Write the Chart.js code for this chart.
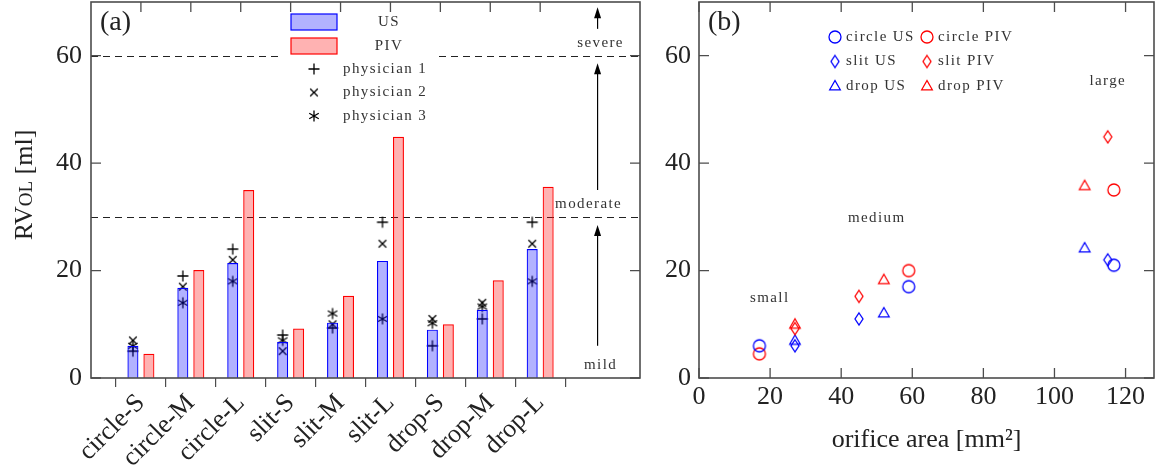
<!DOCTYPE html>
<html>
<head>
<meta charset="utf-8">
<script src="https://cdn.jsdelivr.net/npm/chart.js@4/dist/chart.umd.min.js"></script>
<style>
  html, body { margin: 0; padding: 0; background: #fff; }
  #wrap { position: relative; width: 1163px; height: 470px; }
  #left { position: absolute; left: 0; top: 0; }
  #right { position: absolute; left: 660px; top: 0; }
</style>
</head>
<body>
<div id="wrap">
  <canvas id="left" width="660" height="470"></canvas>
  <canvas id="right" width="503" height="470"></canvas>
</div>
<script>
// panel (a): volumes per orifice
const categories = ['circle-S', 'circle-M', 'circle-L', 'slit-S', 'slit-M', 'slit-L', 'drop-S', 'drop-M', 'drop-L'];
const usVolume = [6.0, 16.8, 21.4, 6.7, 10.3, 21.8, 9.0, 12.7, 24.0];
const pivVolume = [4.5, 20.1, 35.0, 9.2, 15.3, 44.9, 10.0, 18.2, 35.6];
const physician1 = [5.0, 19.0, 24.0, 8.0, 9.3, 29.0, 6.0, 11.0, 29.0];
const physician2 = [7.0, 17.0, 22.0, 5.0, 10.0, 25.0, 11.0, 14.0, 25.0];
const physician3 = [6.0, 14.0, 18.0, 7.0, 12.0, 11.0, 10.2, 13.3, 18.0];
const gradeLimits = [30, 60];
const yTicks = [0, 20, 40, 60];

// panel (b): volume against orifice area
const circleArea = [17, 59, 116.7];
const slitArea = [27, 45, 115];
const dropArea = [27, 52, 108.5];
const circleUS = [6.0, 17.0, 21.0];
const circlePIV = [4.5, 20.0, 35.0];
const slitUS = [6.0, 11.0, 22.0];
const slitPIV = [9.2, 15.2, 44.9];
const dropUS = [7.0, 12.1, 24.2];
const dropPIV = [10.0, 18.3, 35.8];
const areaTicks = [0, 20, 40, 60, 80, 100, 120];

const SERIF = '"Liberation Serif", "DejaVu Serif", serif';
const INK = '#222';
const FRAME = '#4d4d4d';
const BLUE = '#0000ff';
const RED = '#ff0000';
const BLUE_FILL = 'rgba(0, 0, 255, 0.3)';
const RED_FILL = 'rgba(255, 0, 0, 0.3)';
const BIG = { family: SERIF, size: 26 };

Chart.defaults.font.family = SERIF;
Chart.defaults.color = INK;

const markerCanvas = (kind, color) => {
  const c = document.createElement('canvas');
  c.width = 18;
  c.height = 18;
  const g = c.getContext('2d');
  g.strokeStyle = color;
  g.lineWidth = 1.3;
  g.translate(9, 9);
  g.beginPath();
  if (kind === 'circle') {
    g.arc(0, 0, 6, 0, Math.PI * 2);
  } else if (kind === 'diamond') {
    g.moveTo(0, -6); g.lineTo(4, 0); g.lineTo(0, 6); g.lineTo(-4, 0); g.closePath();
  } else if (kind === 'triangle') {
    g.moveTo(0, -5.5); g.lineTo(5.3, 3.8); g.lineTo(-5.3, 3.8); g.closePath();
  } else if (kind === 'plus') {
    g.moveTo(-5.5, 0); g.lineTo(5.5, 0); g.moveTo(0, -5.5); g.lineTo(0, 5.5);
  } else if (kind === 'cross') {
    g.moveTo(-3.8, -3.8); g.lineTo(3.8, 3.8); g.moveTo(3.8, -3.8); g.lineTo(-3.8, 3.8);
  } else if (kind === 'asterisk') {
    for (let k = 0; k < 3; k++) {
      const a = Math.PI / 2 + k * Math.PI / 3;
      g.moveTo(-5.5 * Math.cos(a), -5.5 * Math.sin(a));
      g.lineTo(5.5 * Math.cos(a), 5.5 * Math.sin(a));
    }
  }
  g.stroke();
  return c;
};

const marks = {
  plus: markerCanvas('plus', '#000'),
  cross: markerCanvas('cross', '#000'),
  asterisk: markerCanvas('asterisk', '#000'),
  circleUS: markerCanvas('circle', BLUE),
  circlePIV: markerCanvas('circle', RED),
  slitUS: markerCanvas('diamond', BLUE),
  slitPIV: markerCanvas('diamond', RED),
  dropUS: markerCanvas('triangle', BLUE),
  dropPIV: markerCanvas('triangle', RED),
};

const smallText = (ctx, text, x, y, align) => {
  ctx.font = '15px ' + SERIF;
  ctx.letterSpacing = '1.4px';
  ctx.fillStyle = '#333';
  ctx.textAlign = align || 'center';
  ctx.textBaseline = 'middle';
  ctx.fillText(text, x, y);
  ctx.letterSpacing = '0px';
};

const drawArrow = (ctx, x, yFrom, yTo) => {
  ctx.strokeStyle = '#000';
  ctx.fillStyle = '#000';
  ctx.lineWidth = 1.2;
  ctx.beginPath();
  ctx.moveTo(x, yFrom);
  ctx.lineTo(x, yTo + 8);
  ctx.stroke();
  ctx.beginPath();
  ctx.moveTo(x, yTo);
  ctx.lineTo(x - 3.5, yTo + 11);
  ctx.lineTo(x + 3.5, yTo + 11);
  ctx.closePath();
  ctx.fill();
};

// no label overhang padding: the plot box is set by afterFit
const noPad = (s) => {
  s.paddingTop = 0;
  s.paddingBottom = 0;
  s.paddingLeft = 0;
  s.paddingRight = 0;
};

// box round the plot with inward ticks
const framePlugin = {
  id: 'frame',
  afterDraw(chart, args, opts) {
    const { ctx, chartArea: a } = chart;
    const x = chart.scales.x;
    const y = chart.scales.y;
    const len = 10;

    ctx.save();
    ctx.strokeStyle = FRAME;
    ctx.lineWidth = 1.3;
    ctx.beginPath();
    y.ticks.forEach((t) => {
      const p = y.getPixelForValue(t.value);
      ctx.moveTo(a.left, p); ctx.lineTo(a.left + len, p);
      ctx.moveTo(a.right, p); ctx.lineTo(a.right - len, p);
    });
    x.ticks.forEach((t) => {
      const p = x.getPixelForValue(t.value);
      ctx.moveTo(p, a.top); ctx.lineTo(p, a.top + len);
      if (opts.bottomInward) {
        ctx.moveTo(p, a.bottom); ctx.lineTo(p, a.bottom - len);
      }
    });
    ctx.stroke();
    ctx.lineWidth = 1.6;
    ctx.strokeRect(a.left, a.top, a.right - a.left, a.bottom - a.top);

    ctx.font = '28px ' + SERIF;
    ctx.fillStyle = INK;
    ctx.textAlign = 'left';
    ctx.textBaseline = 'middle';
    ctx.fillText(opts.tag, a.left + 9, a.top + 21);
    ctx.restore();
  },
};

// severity limits, arrows and the legend of panel (a)
const severityPlugin = {
  id: 'severity',
  beforeDatasetsDraw(chart) {
    const { ctx, chartArea: a } = chart;
    const y = chart.scales.y;
    ctx.save();
    ctx.strokeStyle = '#222';
    ctx.lineWidth = 1.2;
    ctx.setLineDash([7, 5]);
    gradeLimits.forEach((v) => {
      const p = Math.round(y.getPixelForValue(v)) + 0.5;
      ctx.beginPath();
      ctx.moveTo(a.left, p);
      ctx.lineTo(a.right, p);
      ctx.stroke();
    });
    ctx.restore();
  },
  afterDatasetsDraw(chart) {
    const { ctx, chartArea: a } = chart;
    const x = chart.scales.x;
    const y = chart.scales.y;
    const ax = x.getPixelForValue(10.15);
    ctx.save();
    drawArrow(ctx, ax, y.getPixelForValue(6), y.getPixelForValue(28.5));
    drawArrow(ctx, ax, y.getPixelForValue(35), y.getPixelForValue(58.6));
    drawArrow(ctx, ax, y.getPixelForValue(65), y.getPixelForValue(69));
    smallText(ctx, 'mild', ax + 3, y.getPixelForValue(2.4));
    smallText(ctx, 'moderate', ax - 9, y.getPixelForValue(32.4));
    smallText(ctx, 'severe', ax + 3, y.getPixelForValue(62.4));

    // legend
    const lx = a.left + 191;
    ctx.fillStyle = '#fff';
    ctx.fillRect(lx, a.top + 3, 152, 124);
    const boxes = [['US', BLUE_FILL, BLUE], ['PIV', RED_FILL, RED]];
    boxes.forEach(([label, fill, line], i) => {
      const by = a.top + 12 + i * 24;
      ctx.fillStyle = fill;
      ctx.fillRect(lx + 9, by, 46, 16);
      ctx.strokeStyle = line;
      ctx.lineWidth = 1.2;
      ctx.strokeRect(lx + 9, by, 46, 16);
      smallText(ctx, label, lx + 107, by + 8);
    });
    const rows = [['physician 1', marks.plus], ['physician 2', marks.cross], ['physician 3', marks.asterisk]];
    rows.forEach(([label, img], i) => {
      const ry = a.top + 67 + i * 23.5;
      ctx.drawImage(img, lx + 32 - 9, ry - 9);
      smallText(ctx, label, lx + 61, ry, 'left');
    });
    ctx.restore();
  },
};

// y title with small caps
const rvolTitle = {
  id: 'rvolTitle',
  afterDraw(chart) {
    const { ctx } = chart;
    const parts = [['RV', 26], ['OL', 19], [' [ml]', 26]];
    ctx.save();
    ctx.translate(23, 185);
    ctx.rotate(-Math.PI / 2);
    ctx.fillStyle = INK;
    ctx.textBaseline = 'alphabetic';
    ctx.textAlign = 'left';
    let total = 0;
    parts.forEach(([t, s]) => { ctx.font = s + 'px ' + SERIF; total += ctx.measureText(t).width; });
    let cx = -total / 2;
    parts.forEach(([t, s]) => {
      ctx.font = s + 'px ' + SERIF;
      ctx.fillText(t, cx, 9);
      cx += ctx.measureText(t).width;
    });
    ctx.restore();
  },
};

const usOffset = -0.16;

new Chart(document.getElementById('left'), {
  type: 'bar',
  data: {
    datasets: [
      {
        label: 'US',
        data: usVolume.map((v, i) => ({ x: i + 1, y: v })),
        backgroundColor: BLUE_FILL,
        borderColor: BLUE,
        borderWidth: 1.2,
        categoryPercentage: 0.64,
        barPercentage: 0.69,
      },
      {
        label: 'PIV',
        data: pivVolume.map((v, i) => ({ x: i + 1, y: v })),
        backgroundColor: RED_FILL,
        borderColor: RED,
        borderWidth: 1.2,
        categoryPercentage: 0.64,
        barPercentage: 0.69,
      },
      {
        type: 'scatter',
        label: 'physician 1',
        data: physician1.map((v, i) => ({ x: i + 1 + usOffset, y: v })),
        pointStyle: marks.plus,
        pointRadius: 6,
      },
      {
        type: 'scatter',
        label: 'physician 2',
        data: physician2.map((v, i) => ({ x: i + 1 + usOffset, y: v })),
        pointStyle: marks.cross,
        pointRadius: 6,
      },
      {
        type: 'scatter',
        label: 'physician 3',
        data: physician3.map((v, i) => ({ x: i + 1 + usOffset, y: v })),
        pointStyle: marks.asterisk,
        pointRadius: 6,
      },
    ],
  },
  options: {
    responsive: false,
    animation: false,
    layout: { autoPadding: false, padding: { top: 2, right: 20, left: 0, bottom: 0 } },
    plugins: {
      legend: { display: false },
      tooltip: { enabled: false },
      frame: { tag: '(a)', bottomInward: false },
    },
    scales: {
      x: {
        type: 'linear',
        min: 0,
        max: 11,
        offset: false,
        afterBuildTicks: (s) => { s.ticks = s.ticks.filter((t) => t.value >= 1 && t.value <= categories.length); },
        afterFit: (s) => { s.height = 92; noPad(s); },
        ticks: {
          stepSize: 1,
          autoSkip: false,
          minRotation: 45,
          maxRotation: 45,
          padding: 1,
          font: BIG,
          callback: (v) => categories[v - 1],
        },
        grid: { drawOnChartArea: false, drawTicks: true, tickLength: 9, color: FRAME, lineWidth: 1.2 },
        border: { display: false },
      },
      y: {
        min: 0,
        max: 70,
        afterBuildTicks: (s) => { s.ticks = yTicks.map((v) => ({ value: v })); },
        afterFit: (s) => { s.width = 91; noPad(s); },
        ticks: { padding: 9, font: BIG },
        grid: { display: false, drawTicks: false },
        border: { display: false },
      },
    },
  },
  plugins: [severityPlugin, framePlugin, rvolTitle],
});

// panel (b)
const sizeLabels = {
  id: 'sizeLabels',
  afterDatasetsDraw(chart) {
    const { ctx } = chart;
    const x = chart.scales.x;
    const y = chart.scales.y;
    ctx.save();
    smallText(ctx, 'small', x.getPixelForValue(19.9), y.getPixelForValue(14.8));
    smallText(ctx, 'medium', x.getPixelForValue(50), y.getPixelForValue(29.8));
    smallText(ctx, 'large', x.getPixelForValue(115), y.getPixelForValue(55.2));

    const entries = [
      ['circle US', marks.circleUS], ['circle PIV', marks.circlePIV],
      ['slit US', marks.slitUS], ['slit PIV', marks.slitPIV],
      ['drop US', marks.dropUS], ['drop PIV', marks.dropPIV],
    ];
    entries.forEach(([label, img], i) => {
      const col = i % 2;
      const row = Math.floor(i / 2);
      const mx = 175 + col * 92;
      const my = 37 + row * 24.5;
      ctx.drawImage(img, mx - 9, my - 9);
      smallText(ctx, label, mx + 11, my, 'left');
    });
    ctx.restore();
  },
};

const series = (label, xs, ys, img) => ({
  label,
  data: xs.map((v, i) => ({ x: v, y: ys[i] })),
  pointStyle: img,
  pointRadius: 6,
});

new Chart(document.getElementById('right'), {
  type: 'scatter',
  data: {
    datasets: [
      series('circle US', circleArea, circleUS, marks.circleUS),
      series('circle PIV', circleArea, circlePIV, marks.circlePIV),
      series('slit US', slitArea, slitUS, marks.slitUS),
      series('slit PIV', slitArea, slitPIV, marks.slitPIV),
      series('drop US', dropArea, dropUS, marks.dropUS),
      series('drop PIV', dropArea, dropPIV, marks.dropPIV),
    ],
  },
  options: {
    responsive: false,
    animation: false,
    layout: { autoPadding: false, padding: { top: 2, right: 9, left: 0, bottom: 0 } },
    plugins: {
      legend: { display: false },
      tooltip: { enabled: false },
      frame: { tag: '(b)', bottomInward: true },
    },
    scales: {
      x: {
        type: 'linear',
        min: 0,
        max: 128,
        afterBuildTicks: (s) => { s.ticks = areaTicks.map((v) => ({ value: v })); },
        afterFit: (s) => { s.height = 92; noPad(s); },
        ticks: { padding: 4, font: BIG, maxRotation: 0 },
        grid: { display: false, drawTicks: false },
        border: { display: false },
        title: { display: true, text: 'orifice area [mm²]', font: BIG, padding: { top: 0, bottom: 14 } },
      },
      y: {
        min: 0,
        max: 70,
        afterBuildTicks: (s) => { s.ticks = yTicks.map((v) => ({ value: v })); },
        afterFit: (s) => { s.width = 39; noPad(s); },
        ticks: { padding: 8, font: BIG },
        grid: { display: false, drawTicks: false },
        border: { display: false },
      },
    },
  },
  plugins: [sizeLabels, framePlugin],
});
</script>
</body>
</html>
